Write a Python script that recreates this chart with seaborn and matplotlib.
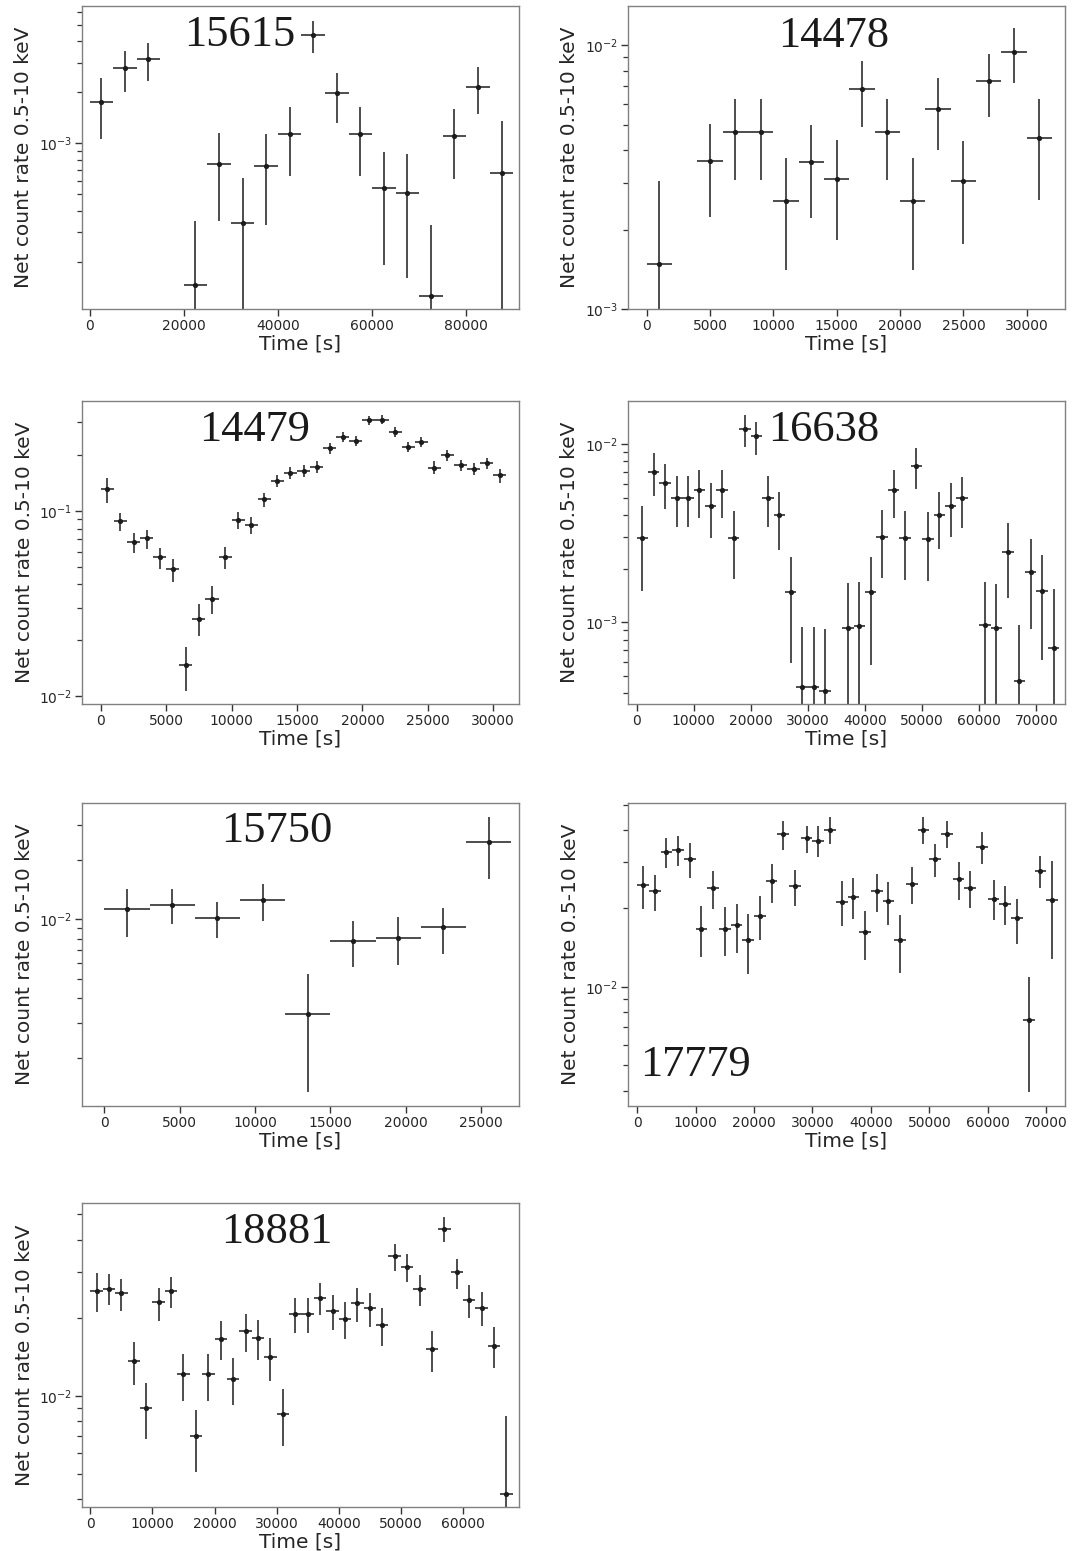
import numpy as np
import pandas as pd
import matplotlib
matplotlib.use("Agg")
import matplotlib.pyplot as plt
import seaborn as sns

sns.set_theme(style="ticks")
plt.rcParams['font.family'] = ['DejaVu Sans']

# ---------------- data ----------------
# ObsID 15615
t_15615 = [2500, 7500, 12500, 22500, 27500, 32500, 37500, 42500, 47500, 52500,
           57500, 62500, 67500, 72500, 77500, 82500, 87500]
r_15615 = [1.75e-3, 2.77e-3, 3.13e-3, 1.46e-4, 7.55e-4, 3.40e-4, 7.38e-4, 1.14e-3, 4.38e-3,
           1.97e-3, 1.135e-3, 5.42e-4, 5.11e-4, 1.26e-4, 1.11e-3, 2.15e-3, 6.65e-4]
hi_15615 = [2.42e-3, 3.51e-3, 3.93e-3, 3.49e-4, 1.156e-3, 6.21e-4, 1.135e-3, 1.63e-3, 5.3e-3,
            2.59e-3, 1.63e-3, 8.89e-4, 8.61e-4, 3.28e-4, 1.59e-3, 2.81e-3, 1.36e-3]
lo_15615 = [1.066e-3, 2.02e-3, 2.34e-3, 1e-6, 3.49e-4, 1e-6, 3.30e-4, 6.44e-4, 3.43e-3,
            1.32e-3, 6.44e-4, 1.91e-4, 1.59e-4, 1e-6, 6.13e-4, 1.48e-3, 1e-6]
dt_15615 = 2500

# ObsID 14478
t_14478 = [1000, 5000, 7000, 9000, 11000, 13000, 15000, 17000, 19000, 21000, 23000,
           25000, 27000, 29000, 31000]
r_14478 = [1.48e-3, 3.64e-3, 4.68e-3, 4.68e-3, 2.57e-3, 3.60e-3, 3.11e-3, 6.81e-3, 4.68e-3,
           2.57e-3, 5.75e-3, 3.05e-3, 7.31e-3, 9.46e-3, 4.45e-3]
hi_14478 = [3.06e-3, 5.04e-3, 6.24e-3, 6.24e-3, 3.74e-3, 4.99e-3, 4.39e-3, 8.70e-3, 6.24e-3,
            3.74e-3, 7.50e-3, 4.34e-3, 9.27e-3, 1.16e-2, 6.27e-3]
lo_14478 = [1e-6, 2.24e-3, 3.09e-3, 3.09e-3, 1.40e-3, 2.22e-3, 1.82e-3, 4.91e-3, 3.09e-3,
            1.40e-3, 4.00e-3, 1.76e-3, 5.33e-3, 7.22e-3, 2.60e-3]
dt_14478 = 1000

# ObsID 14479
t_14479 = [500, 1500, 2500, 3500, 4500, 5500, 6500, 7500, 8500, 9500, 10500, 11500, 12500,
           13500, 14500, 15500, 16500, 17500, 18500, 19500, 20500, 21500, 22500, 23500,
           24500, 25500, 26500, 27500, 28500, 29500, 30500]
r_14479 = [0.131, 0.0879, 0.0675, 0.0709, 0.056, 0.0484, 0.01463, 0.0262, 0.0336, 0.056,
           0.0891, 0.0837, 0.1156, 0.145, 0.160, 0.1644, 0.1727, 0.217, 0.251, 0.239, 0.307,
           0.310, 0.267, 0.221, 0.236, 0.171, 0.1997, 0.1756, 0.1679, 0.18, 0.1557]
hi_14479 = [0.151, 0.0968, 0.0755, 0.0787, 0.0629, 0.0551, 0.01845, 0.0313, 0.0392, 0.0634,
            0.098, 0.0921, 0.125, 0.155, 0.1727, 0.1763, 0.186, 0.231, 0.266, 0.253, 0.326,
            0.328, 0.284, 0.236, 0.251, 0.185, 0.2135, 0.1877, 0.18, 0.192, 0.169]
lo_14479 = [0.1096, 0.078, 0.0589, 0.0618, 0.0482, 0.0414, 0.0107, 0.0211, 0.0277, 0.0484,
            0.0793, 0.0745, 0.1051, 0.1336, 0.1488, 0.1525, 0.160, 0.203, 0.236, 0.224, 0.291,
            0.294, 0.251, 0.208, 0.221, 0.158, 0.186, 0.1637, 0.1557, 0.168, 0.1416]
dt_14479 = 500

# ObsID 16638
t_16638 = [1000, 3000, 5000, 7000, 9000, 11000, 13000, 15000, 17000, 19000, 21000, 23000,
           25000, 27000, 29000, 31000, 33000, 37000, 39000, 41000, 43000, 45000, 47000,
           49000, 51000, 53000, 55000, 57000, 61000, 63000, 65000, 67000, 69000, 71000, 73000]
r_16638 = [2.97e-3, 7.0e-3, 6.01e-3, 5.0e-3, 5.0e-3, 5.55e-3, 4.51e-3, 5.55e-3, 2.97e-3,
           1.22e-2, 1.104e-2, 5.0e-3, 3.98e-3, 1.47e-3, 4.32e-4, 4.32e-4, 4.12e-4, 9.33e-4,
           9.57e-4, 1.47e-3, 3.02e-3, 5.55e-3, 2.97e-3, 7.53e-3, 2.93e-3, 3.98e-3, 4.51e-3,
           4.98e-3, 9.7e-4, 9.25e-4, 2.48e-3, 4.71e-4, 1.92e-3, 1.5e-3, 7.21e-4]
hi_16638 = [4.46e-3, 8.87e-3, 7.76e-3, 6.59e-3, 6.59e-3, 7.18e-3, 6.01e-3, 7.15e-3, 4.21e-3,
            1.455e-2, 1.334e-2, 6.59e-3, 5.38e-3, 2.33e-3, 9.38e-4, 9.38e-4, 9.18e-4, 1.66e-3,
            1.68e-3, 2.33e-3, 4.25e-3, 7.15e-3, 4.21e-3, 9.46e-3, 4.16e-3, 5.41e-3, 6.01e-3,
            6.5e-3, 1.68e-3, 1.64e-3, 3.59e-3, 9.7e-4, 2.92e-3, 2.37e-3, 1.54e-3]
lo_16638 = [1.49e-3, 5.11e-3, 4.30e-3, 3.41e-3, 3.41e-3, 3.86e-3, 2.98e-3, 3.83e-3, 1.74e-3,
            9.66e-3, 8.64e-3, 3.42e-3, 2.55e-3, 5.89e-4, 1e-6, 1e-6, 1e-6, 1e-6,
            1e-6, 5.74e-4, 1.77e-3, 3.83e-3, 1.73e-3, 5.57e-3, 1.70e-3, 2.57e-3, 3.0e-3,
            3.37e-3, 1e-6, 1e-6, 1.36e-3, 1e-6, 9.14e-4, 6.15e-4, 1e-6]
dt_16638 = 1000

# ObsID 15750
t_15750 = [1500, 4500, 7500, 10500, 13500, 16500, 19500, 22500, 25500]
r_15750 = [1.127e-2, 1.186e-2, 1.016e-2, 1.251e-2, 3.32e-3, 7.78e-3, 8.09e-3, 9.11e-3, 2.45e-2]
hi_15750 = [1.428e-2, 1.417e-2, 1.218e-2, 1.507e-2, 5.30e-3, 9.77e-3, 1.023e-2, 1.145e-2, 3.29e-2]
lo_15750 = [8.15e-3, 9.51e-3, 8.05e-3, 9.81e-3, 1.34e-3, 5.71e-3, 5.89e-3, 6.66e-3, 1.60e-2]
dt_15750 = 1500

# ObsID 17779
t_17779 = [1000, 3000, 5000, 7000, 9000, 11000, 13000, 15000, 17000, 19000, 21000, 23000,
           25000, 27000, 29000, 31000, 33000, 35000, 37000, 39000, 41000, 43000, 45000,
           47000, 49000, 51000, 53000, 55000, 57000, 59000, 61000, 63000, 65000, 67000,
           69000, 71000]
r_17779 = [2.45e-2, 2.34e-2, 3.30e-2, 3.35e-2, 3.10e-2, 1.67e-2, 2.39e-2, 1.67e-2, 1.72e-2,
           1.51e-2, 1.875e-2, 2.54e-2, 3.86e-2, 2.44e-2, 3.72e-2, 3.64e-2, 4.01e-2, 2.12e-2,
           2.22e-2, 1.62e-2, 2.34e-2, 2.13e-2, 1.51e-2, 2.49e-2, 4.01e-2, 3.10e-2, 3.86e-2,
           2.58e-2, 2.39e-2, 3.44e-2, 2.18e-2, 2.08e-2, 1.83e-2, 7.48e-3, 2.79e-2, 2.16e-2]
hi_17779 = [2.90e-2, 2.69e-2, 3.73e-2, 3.78e-2, 3.56e-2, 2.04e-2, 2.77e-2, 2.02e-2, 2.08e-2,
            1.90e-2, 2.23e-2, 2.95e-2, 4.34e-2, 2.81e-2, 4.15e-2, 4.14e-2, 4.50e-2, 2.55e-2,
            2.62e-2, 1.96e-2, 2.72e-2, 2.52e-2, 1.89e-2, 2.89e-2, 4.50e-2, 3.53e-2, 4.32e-2,
            3.0e-2, 2.77e-2, 3.92e-2, 2.56e-2, 2.43e-2, 2.18e-2, 1.09e-2, 3.17e-2, 3.03e-2]
lo_17779 = [1.98e-2, 1.95e-2, 2.85e-2, 2.90e-2, 2.62e-2, 1.30e-2, 1.98e-2, 1.31e-2, 1.35e-2,
            1.115e-2, 1.51e-2, 2.10e-2, 3.35e-2, 2.05e-2, 3.26e-2, 3.14e-2, 3.53e-2, 1.71e-2,
            1.82e-2, 1.27e-2, 1.93e-2, 1.73e-2, 1.13e-2, 2.08e-2, 3.52e-2, 2.64e-2, 3.40e-2,
            2.16e-2, 2.0e-2, 2.96e-2, 1.81e-2, 1.72e-2, 1.46e-2, 3.95e-3, 2.39e-2, 1.28e-2]
dt_17779 = 1000

# ObsID 18881
t_18881 = [1000, 3000, 5000, 7000, 9000, 11000, 13000, 15000, 17000, 19000, 21000, 23000,
           25000, 27000, 29000, 31000, 33000, 35000, 37000, 39000, 41000, 43000, 45000,
           47000, 49000, 51000, 53000, 55000, 57000, 59000, 61000, 63000, 65000, 67000]
r_18881 = [2.54e-2, 2.59e-2, 2.48e-2, 1.365e-2, 8.99e-3, 2.29e-2, 2.54e-2, 1.21e-2, 7.01e-3,
           1.21e-2, 1.66e-2, 1.16e-2, 1.78e-2, 1.67e-2, 1.415e-2, 8.52e-3, 2.07e-2, 2.07e-2,
           2.39e-2, 2.13e-2, 1.98e-2, 2.27e-2, 2.17e-2, 1.875e-2, 3.45e-2, 3.14e-2, 2.58e-2,
           1.51e-2, 4.41e-2, 2.99e-2, 2.34e-2, 2.18e-2, 1.56e-2, 4.20e-3]
hi_18881 = [2.97e-2, 2.94e-2, 2.82e-2, 1.616e-2, 1.116e-2, 2.61e-2, 2.88e-2, 1.45e-2, 8.85e-3,
            1.45e-2, 1.95e-2, 1.40e-2, 2.06e-2, 1.96e-2, 1.675e-2, 1.058e-2, 2.39e-2, 2.39e-2,
            2.72e-2, 2.45e-2, 2.29e-2, 2.60e-2, 2.49e-2, 2.18e-2, 3.85e-2, 3.52e-2, 2.92e-2,
            1.78e-2, 4.87e-2, 3.37e-2, 2.67e-2, 2.51e-2, 1.84e-2, 8.37e-3]
lo_18881 = [2.11e-2, 2.23e-2, 2.13e-2, 1.10e-2, 6.84e-3, 1.94e-2, 2.17e-2, 9.56e-3, 5.09e-3,
            9.56e-3, 1.37e-2, 9.2e-3, 1.47e-2, 1.38e-2, 1.14e-2, 6.41e-3, 1.74e-2, 1.75e-2,
            2.04e-2, 1.80e-2, 1.655e-2, 1.93e-2, 1.84e-2, 1.56e-2, 3.03e-2, 2.74e-2, 2.22e-2,
            1.23e-2, 3.93e-2, 2.59e-2, 1.99e-2, 1.85e-2, 1.28e-2, 1e-6]
dt_18881 = 1000

# ---------------- figure ----------------
W, H = 1076, 1551
fig = plt.figure(figsize=(W / 100, H / 100), dpi=100)

def box(x0, x1, y0, y1):
    return [x0 / W, 1 - y1 / H, (x1 - x0) / W, (y1 - y0) / H]

panels = [
    # name, t, r, lo, hi, dt, axes box, xlim, ylim, label pos
    ("15615", t_15615, r_15615, lo_15615, hi_15615, dt_15615, box(82, 519, 6, 309),
     (-1600, 91200), (1.05e-4, 6.47e-3), (0.361, 0.903)),
    ("14478", t_14478, r_14478, lo_14478, hi_14478, dt_14478, box(628, 1065, 6, 309),
     (-1480, 33020), (1.0e-3, 1.41e-2), (0.47, 0.90)),
    ("14479", t_14479, r_14479, lo_14479, hi_14479, dt_14479, box(82, 519, 401, 704),
     (-1440, 31970), (9.06e-3, 0.391), (0.394, 0.904)),
    ("16638", t_16638, r_16638, lo_16638, hi_16638, dt_16638, box(628, 1065, 401, 704),
     (-1490, 75000), (3.48e-4, 1.742e-2), (0.448, 0.904)),
    ("15750", t_15750, r_15750, lo_15750, hi_15750, dt_15750, box(82, 519, 803, 1106),
     (-1480, 27520), (1.14e-3, 3.87e-2), (0.446, 0.908)),
    ("17779", t_17779, r_17779, lo_17779, hi_17779, dt_17779, box(628, 1065, 803, 1106),
     (-1575, 73220), (3.49e-3, 5.07e-2), (0.154, 0.134)),
    ("18881", t_18881, r_18881, lo_18881, hi_18881, dt_18881, box(82, 519, 1203, 1507),
     (-1340, 69020), (3.73e-3, 5.53e-2), (0.445, 0.904)),
]

col = "#1c1c1c"
for name, t, r, lo, hi, dt, pos, xl, yl, lp in panels:
    ax = fig.add_axes(pos)
    t = np.asarray(t, float)
    r = np.asarray(r, float)
    lo = np.asarray(lo, float)
    hi = np.asarray(hi, float)
    ax.set_yscale("log")
    ax.errorbar(t, r, yerr=[r - lo, hi - r], xerr=dt, fmt="none",
                ecolor=col, elinewidth=1.1, capsize=0, zorder=2)
    df = pd.DataFrame({"t": t, "r": r})
    sns.scatterplot(data=df, x="t", y="r", ax=ax, color=col, s=14,
                    edgecolor=col, linewidth=0, zorder=3)
    ax.set_xlim(*xl)
    ax.set_ylim(*yl)
    ax.set_xlabel("Time [s]", fontsize=14.5, color="#262626", labelpad=1)
    ax.set_ylabel("Net count rate 0.5-10 keV", fontsize=14.5, color="#262626", labelpad=4)
    ax.tick_params(axis="both", which="major", labelsize=10, length=5, width=1.0,
                   color="#333333", labelcolor="#262626", pad=2)
    ax.tick_params(axis="y", which="minor", length=3.5, width=0.9, color="#333333")
    for s in ax.spines.values():
        s.set_color("#808080")
        s.set_linewidth(1.0)
    ax.text(lp[0], lp[1], name, transform=ax.transAxes, ha="center", va="center",
            fontsize=32, family=["Liberation Serif", "DejaVu Serif"], color="#1a1a1a")

fig.savefig("out.png", dpi=100)
